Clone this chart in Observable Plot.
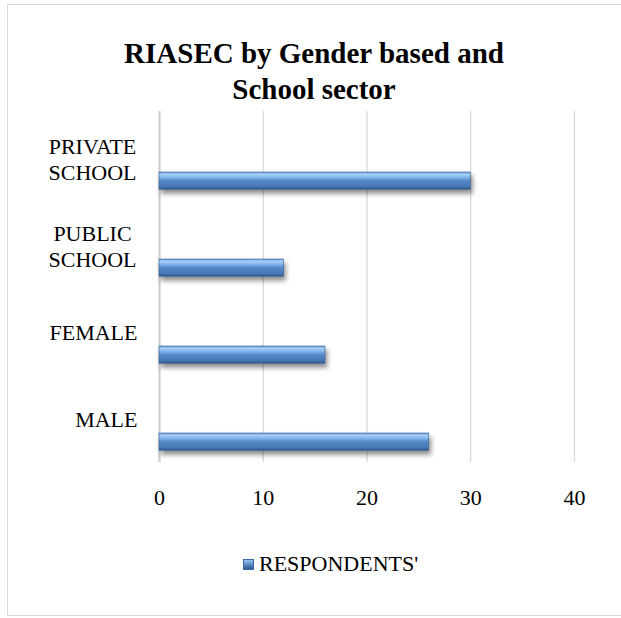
<!DOCTYPE html>
<html>
<head>
<meta charset="utf-8">
<script src="https://cdn.jsdelivr.net/npm/d3@7"></script>
<script src="https://cdn.jsdelivr.net/npm/@observablehq/plot@0.6"></script>
<style>
  html, body { margin: 0; padding: 0; background: #fff; width: 621px; height: 618px; overflow: hidden; }
  #frame { position: absolute; left: 7px; top: 4px; width: 630px; height: 612px; border: 1.5px solid #d9d9d9; box-sizing: border-box; }
  #title { position: absolute; left: 7px; width: 614px; top: 35px; text-align: center; font-family: "Liberation Serif", "Times New Roman", serif; font-weight: bold; font-size: 29px; line-height: 36px; color: #000; }
  #chart { position: absolute; left: 0; top: 105px; }
  #legend { position: absolute; left: 243px; top: 551px; font-family: "Liberation Serif", "Times New Roman", serif; font-size: 22px; color: #000; display: flex; align-items: center; white-space: nowrap; }
  #legend .sw { width: 11px; height: 11px; margin-right: 5px; background: linear-gradient(#9cc3ee, #4f81bd 60%, #2f5b94); border: 0.5px solid #3a6aa8; box-sizing: border-box; }
</style>
</head>
<body>
<div id="frame"></div>
<div id="title">RIASEC by Gender based and<br>School sector</div>
<div id="chart"></div>
<div id="legend"><span class="sw"></span><span id="legendText"></span></div>
<script>
const categories = ["PRIVATE SCHOOL", "PUBLIC SCHOOL", "FEMALE", "MALE"];
const categoryLabels = ["PRIVATE\nSCHOOL", "PUBLIC\nSCHOOL", "FEMALE", "MALE"];
const values = [30, 12, 16, 26];
const xTicks = [0, 10, 20, 30, 40];
const seriesName = "RESPONDENTS'";

const data = categories.map((c, i) => ({category: c, value: values[i], label: categoryLabels[i]}));
const labelOf = new Map(categories.map((c, i) => [c, categoryLabels[i]]));
const multiLine = data.filter(d => d.label.includes("\n"));
const singleLine = new Set(data.filter(d => !d.label.includes("\n")).map(d => d.category));

const plot = Plot.plot({
  width: 621,
  height: 420,
  marginLeft: 159,
  marginRight: 47,
  marginTop: 6,
  marginBottom: 63,
  style: {fontFamily: "'Liberation Serif', 'Times New Roman', serif", fontSize: "22px", color: "#000", background: "transparent"},
  x: {domain: [0, 40], ticks: xTicks},
  y: {domain: categories, padding: 0},
  marks: [
    Plot.gridX(xTicks, {stroke: "#d9d9d9", strokeOpacity: 1, strokeWidth: 1.3}),
    Plot.ruleX([0], {stroke: "#d0d0d0", strokeWidth: 2.2}),
    Plot.barX(data, {
      y: "category", x: "value",
      insetTop: 59, insetBottom: 10.75,
      fill: "url(#barGrad)",
      stroke: "#3b679e", strokeWidth: 0.6,
      className: "bars"
    }),
    Plot.axisX(xTicks, {tickSize: 0, tickPadding: 27, fontSize: 22, label: null}),
    Plot.axisY({tickSize: 0, tickPadding: 22, fontSize: 22, dy: 2, label: null, tickFormat: d => singleLine.has(d) ? labelOf.get(d) : ""}),
    Plot.text(multiLine, {y: "category", text: "label", frameAnchor: "left", dx: -67, dy: 2, textAnchor: "middle", lineHeight: 1.15, fontSize: 22, fill: "#000"})
  ]
});

// gradient definitions for the bevelled bar look
const ns = "http://www.w3.org/2000/svg";
const defs = document.createElementNS(ns, "defs");
defs.innerHTML = `
  <linearGradient id="barGrad" x1="0" y1="0" x2="0" y2="1">
    <stop offset="0" stop-color="#5e8fcf"/>
    <stop offset="0.12" stop-color="#a8d1f8"/>
    <stop offset="0.3" stop-color="#84b6ec"/>
    <stop offset="0.5" stop-color="#5688c8"/>
    <stop offset="0.85" stop-color="#4675b4"/>
    <stop offset="1" stop-color="#2e5486"/>
  </linearGradient>`;
plot.insertBefore(defs, plot.firstChild);
const bars = plot.querySelector(".bars");
if (bars) bars.setAttribute("style", "filter: drop-shadow(2px 4px 2.5px rgba(0,0,0,0.45));");

document.getElementById("chart").appendChild(plot);
document.getElementById("legendText").textContent = seriesName;
</script>
</body>
</html>
